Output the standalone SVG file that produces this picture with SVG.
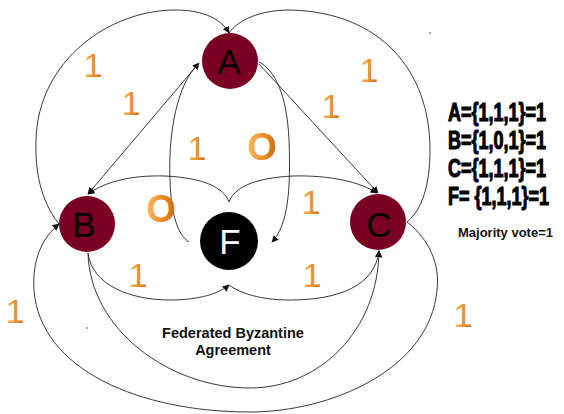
<svg xmlns="http://www.w3.org/2000/svg" width="564" height="414" viewBox="0 0 564 414">
<defs>
<marker id="arr" viewBox="0 0 10 10" refX="9" refY="5" markerWidth="7" markerHeight="7" markerUnits="userSpaceOnUse" orient="auto-start-reverse">
<path d="M0,0 L10,5 L0,10 z" fill="#111"/>
</marker>
<linearGradient id="og" x1="0" y1="0" x2="1" y2="0">
<stop offset="0" stop-color="#f9b865"/>
<stop offset="0.5" stop-color="#f0922a"/>
<stop offset="1" stop-color="#c9680e"/>
</linearGradient>
<style>
.c{fill:none;stroke:#222;stroke-width:0.9}
.n{fill:#7a0022}
.lt{font-family:"Liberation Sans",Arial,sans-serif;font-size:35px;text-anchor:middle}
.d{font-family:"Liberation Sans",Arial,sans-serif;font-size:34px;fill:url(#og);text-anchor:middle}
.o{font-family:"Liberation Sans",Arial,sans-serif;font-size:38px;font-weight:bold;fill:url(#og);text-anchor:middle}
.eq{font-family:"Liberation Sans",Arial,sans-serif;font-size:25px;font-weight:bold;fill:#000;stroke:#000;stroke-width:1.1}
.b{font-family:"Liberation Sans",Arial,sans-serif;font-weight:bold;fill:#111}
</style>
</defs>
<rect width="564" height="414" fill="#fff"/>
<g id="connectors">
<path class="c" d="M59,224 C40,200 35,170 36,140 C38,60 110,10 175,10 C205,10 222,20 229,33" marker-end="url(#arr)"/>
<path class="c" d="M407,222 C422,210 430,185 430,150 C430,70 380,12 290,10 C260,10 238,20 229,33"/>
<path class="c" d="M407,222 C430,240 440,265 437,290 C430,370 330,412 250,412 C140,412 40,370 34,290 C32,260 42,238 59,224" marker-end="url(#arr)"/>
<path class="c" d="M88,253 C90,330 170,388 250,388 C320,388 378,330 379,251" marker-end="url(#arr)"/>
<path class="c" d="M88,253 C92,285 130,300 170,300 C200,300 220,293 229,285" marker-end="url(#arr)"/>
<path class="c" d="M229,285 C240,293 260,300 290,300 C340,300 375,285 379,251" marker-end="url(#arr)"/>
<path class="c" d="M229,202 C224,188 205,178 165,176 C130,175 105,182 88,194" marker-end="url(#arr)"/>
<path class="c" d="M229,202 C234,188 253,178 293,176 C330,175 360,182 377,193" marker-end="url(#arr)"/>
<path class="c" d="M88,194 L199,63" marker-start="url(#arr)" marker-end="url(#arr)"/>
<path class="c" d="M259,64 L378,193" marker-end="url(#arr)"/>
<path class="c" d="M197,65 C178,85 168,130 170,180 C171,215 178,235 189,242"/>
<path class="c" d="M259,62 C275,70 287,95 289,140 C291,190 288,225 272,242" marker-end="url(#arr)"/>
</g>
<g id="node-A"><circle class="n" cx="230" cy="61" r="28"/><text class="lt" x="229" y="74" fill="#000">A</text></g>
<g id="node-B"><circle class="n" cx="87" cy="224" r="28"/><text class="lt" x="84" y="237" fill="#000">B</text></g>
<g id="node-C"><circle class="n" cx="378" cy="222" r="28"/><text class="lt" x="379" y="237" fill="#000">C</text></g>
<g id="node-F"><circle cx="229" cy="241" r="29" fill="#000"/><text class="lt" x="230" y="254" fill="#fff" font-size="37">F</text></g>
<g id="votes">
<text class="d" x="93" y="77">1</text>
<text class="d" x="131" y="115">1</text>
<text class="d" x="197" y="160">1</text>
<text class="o" x="262" y="160">O</text>
<text class="d" x="369" y="82">1</text>
<text class="d" x="331" y="118">1</text>
<text class="o" x="161" y="222">O</text>
<text class="d" x="311" y="214">1</text>
<text class="d" x="138" y="287">1</text>
<text class="d" x="15" y="323">1</text>
<text class="d" x="312" y="287">1</text>
<text class="d" x="463" y="327">1</text>
</g>
<g id="results">
<text class="eq" transform="translate(448,121) scale(0.72,1)">A={1,1,1}=1</text>
<text class="eq" transform="translate(448,149) scale(0.72,1)">B={1,0,1}=1</text>
<text class="eq" transform="translate(448,177) scale(0.72,1)">C={1,1,1}=1</text>
<text class="eq" transform="translate(448,205) scale(0.72,1)">F= {1,1,1}=1</text>
<text class="b" x="458" y="237" font-size="13">Majority vote=1</text>
</g>
<g id="title">
<text class="b" x="233" y="338" font-size="14.5" text-anchor="middle">Federated Byzantine</text>
<text class="b" x="233" y="355" font-size="14.5" text-anchor="middle">Agreement</text>
</g>
<circle cx="430" cy="33" r="0.8" fill="#333"/>
<circle cx="87" cy="328" r="0.8" fill="#333"/>
</svg>
